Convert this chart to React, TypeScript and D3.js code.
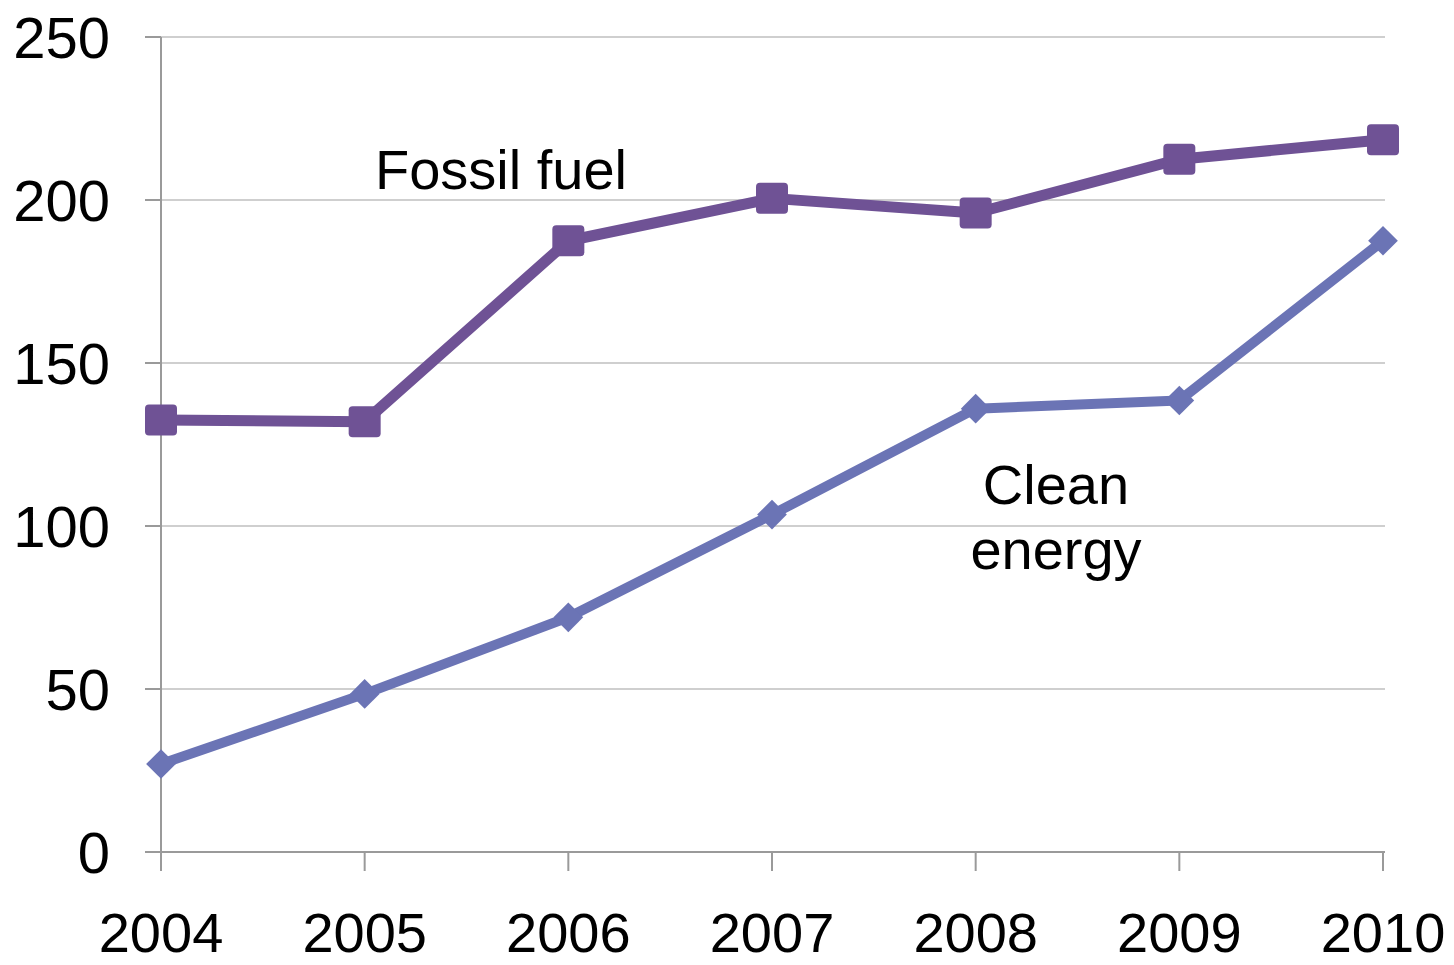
import React from "react";
import * as d3 from "d3";

const years = ["2004", "2005", "2006", "2007", "2008", "2009", "2010"];
const fossilFuel = [132.5, 132, 187.5, 200.5, 196, 212.5, 218.5];
const cleanEnergy = [27, 48.5, 72, 103.5, 136, 138.5, 187.5];
const yTicks = [0, 50, 100, 150, 200, 250];

const W = 1454;
const H = 965;
const FONT = "'Liberation Sans', Arial, sans-serif";

export default function App() {
  const x = d3.scalePoint<string>().domain(years).range([161, 1383]);
  const y = d3.scaleLinear().domain([0, 250]).range([852, 37]);

  const line = d3
    .line<number>()
    .x((_, i) => x(years[i]) as number)
    .y((d) => y(d));

  const diamond = d3.symbol().type(d3.symbolSquare).size(21 * 21)();

  return (
    <svg
      width={W}
      height={H}
      style={{ position: "absolute", left: 0, top: 0, display: "block", background: "#fff" }}
    >
      {/* gridlines */}
      {yTicks.map((t) => (
        <line key={"g" + t} x1={145} x2={1385} y1={y(t)} y2={y(t)} stroke={t === 0 ? "#9a9a9a" : "#cfcfcf"} strokeWidth={2} />
      ))}
      {/* y axis */}
      <line x1={161} x2={161} y1={y(250)} y2={y(0)} stroke="#9a9a9a" strokeWidth={2} />
      {yTicks.map((t) => (
        <line key={"yt" + t} x1={145} x2={161} y1={y(t)} y2={y(t)} stroke="#9a9a9a" strokeWidth={2} />
      ))}
      {yTicks.map((t) => (
        <text key={"yl" + t} x={110} y={y(t) + 21} textAnchor="end" fontFamily={FONT} fontSize={58} fill="#000">
          {t}
        </text>
      ))}
      {/* x ticks */}
      {years.map((yr) => (
        <line key={"xt" + yr} x1={x(yr)} x2={x(yr)} y1={852} y2={871} stroke="#9a9a9a" strokeWidth={2} />
      ))}
      {years.map((yr) => (
        <text key={"xl" + yr} x={x(yr)} y={952} textAnchor="middle" fontFamily={FONT} fontSize={56} fill="#000">
          {yr}
        </text>
      ))}

      {/* clean energy */}
      <path d={line(cleanEnergy) || ""} fill="none" stroke="#6B74B5" strokeWidth={10} strokeLinejoin="round" />
      {cleanEnergy.map((v, i) => (
        <path
          key={"c" + i}
          d={diamond || ""}
          transform={`translate(${x(years[i])},${y(v)}) rotate(45)`}
          fill="#6B74B5"
        />
      ))}

      {/* fossil fuel */}
      <path d={line(fossilFuel) || ""} fill="none" stroke="#6F5295" strokeWidth={11} strokeLinejoin="round" />
      {fossilFuel.map((v, i) => (
        <rect
          key={"f" + i}
          x={(x(years[i]) as number) - 16}
          y={y(v) - 15.5}
          width={32}
          height={31}
          rx={4}
          fill="#6F5295"
        />
      ))}

      {/* labels */}
      <text x={501} y={189} textAnchor="middle" fontFamily={FONT} fontSize={56} fill="#000">
        Fossil fuel
      </text>
      <text x={1056} y={504} textAnchor="middle" fontFamily={FONT} fontSize={56} fill="#000">
        Clean
      </text>
      <text x={1056} y={569} textAnchor="middle" fontFamily={FONT} fontSize={56} fill="#000">
        energy
      </text>
    </svg>
  );
}
